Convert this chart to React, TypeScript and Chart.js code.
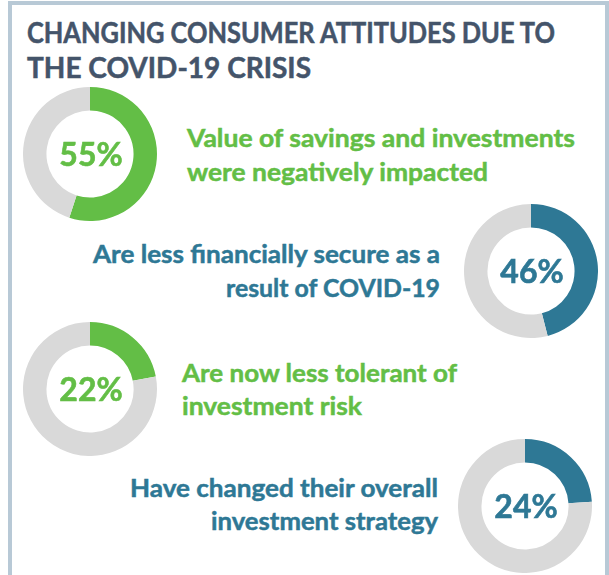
import React, { useEffect, useRef } from "react";
import { Chart, registerables } from "chart.js";

Chart.register(...registerables);

// ---- data ----
const titleLines = ["CHANGING CONSUMER ATTITUDES DUE TO", "THE COVID-19 CRISIS"];
const statLabels = [
  ["Value of savings and investments", "were negatively impacted"],
  ["Are less financially secure as a", "result of COVID-19"],
  ["Are now less tolerant of", "investment risk"],
  ["Have changed their overall", "investment strategy"],
];
const statValues = [55, 46, 22, 24];
const statRemainders = [45, 54, 78, 76];

// ---- styles / layout ----
const GREEN = "#63be46";
const TEAL = "#2e7895";
const GRAY = "#d9d9d9";
const TITLE = "#44546a";
const FONT = "Lato, 'Open Sans', sans-serif";
const statColors = [GREEN, TEAL, GREEN, TEAL];
const donutSize = 134;
const donutPos = [
  { left: 23, top: 87 },
  { left: 464, top: 204 },
  { left: 23, top: 322 },
  { left: 458, top: 439 },
];
const labelLayout = [
  { x: 187, anchor: "start", ys: [146.5, 180.5], widths: [388, 301] },
  { x: 440, anchor: "end", ys: [263, 297], widths: [347, 214] },
  { x: 182, anchor: "start", ys: [382, 415], widths: [275, 180] },
  { x: 438, anchor: "end", ys: [497, 530], widths: [308, 227] },
];
const titleLayout = { x: 27, ys: [43.3, 78.3], widths: [528, 284] };

const centerText = {
  id: "centerText",
  afterDraw(chart: any) {
    const meta = chart.getDatasetMeta(0);
    const arc = meta.data[0];
    if (!arc) return;
    const ctx = chart.ctx;
    const ds = chart.data.datasets[0];
    ctx.save();
    ctx.fillStyle = ds.backgroundColor[0];
    ctx.font = `bold 32px ${FONT}`;
    ctx.textAlign = "center";
    ctx.textBaseline = "alphabetic";
    ctx.strokeStyle = ds.backgroundColor[0];
    ctx.lineWidth = 0.6;
    ctx.fillText(`${ds.data[0]}%`, arc.x + 1, arc.y + 11.5);
    ctx.strokeText(`${ds.data[0]}%`, arc.x + 1, arc.y + 11.5);
    ctx.restore();
  },
};

function Donut({ idx }: { idx: number }) {
  const ref = useRef<HTMLCanvasElement>(null);
  useEffect(() => {
    const chart = new Chart(ref.current as HTMLCanvasElement, {
      type: "doughnut",
      data: {
        labels: ["Yes", "Other"],
        datasets: [
          {
            data: [statValues[idx], statRemainders[idx]],
            backgroundColor: [statColors[idx], GRAY],
            borderWidth: 0,
          },
        ],
      },
      options: {
        responsive: false,
        animation: false,
        cutout: "65%",
        events: [],
        layout: { padding: 0 },
        plugins: { legend: { display: false }, tooltip: { enabled: false } },
      },
      plugins: [centerText],
    } as any);
    return () => chart.destroy();
  }, [idx]);
  const p = donutPos[idx];
  return (
    <canvas
      ref={ref}
      width={donutSize}
      height={donutSize}
      style={{ position: "absolute", left: p.left, top: p.top, width: donutSize, height: donutSize }}
    />
  );
}

export default function App() {
  return (
    <div
      style={{
        position: "absolute",
        left: 0,
        top: 0,
        width: 609,
        height: 575,
        overflow: "hidden",
        background: "#ffffff",
      }}
    >
      <div
        style={{
          position: "absolute",
          left: 8,
          top: 1,
          width: 601,
          height: 640,
          boxSizing: "border-box",
          border: "4px solid #b8c9d6",
        }}
      />
      <svg
        width={609}
        height={575}
        style={{ position: "absolute", left: 0, top: 0 }}
        fontFamily={FONT}
        fontWeight="bold"
      >
        {titleLines.map((t, i) => (
          <text
            key={"t" + i}
            x={titleLayout.x}
            y={titleLayout.ys[i]}
            fontSize={28}
            fill={TITLE}
            stroke={TITLE}
            strokeWidth={0.5}
            textLength={titleLayout.widths[i]}
            lengthAdjust="spacingAndGlyphs"
          >
            {t}
          </text>
        ))}
        {statLabels.map((lines, k) =>
          lines.map((t, i) => (
            <text
              key={`l${k}-${i}`}
              x={labelLayout[k].x}
              y={labelLayout[k].ys[i]}
              fontSize={25}
              fill={statColors[k]}
              stroke={statColors[k]}
              strokeWidth={0.5}
              textAnchor={labelLayout[k].anchor as any}
              textLength={labelLayout[k].widths[i]}
              lengthAdjust="spacingAndGlyphs"
            >
              {t}
            </text>
          ))
        )}
      </svg>
      {statValues.map((_, i) => (
        <Donut key={i} idx={i} />
      ))}
    </div>
  );
}
